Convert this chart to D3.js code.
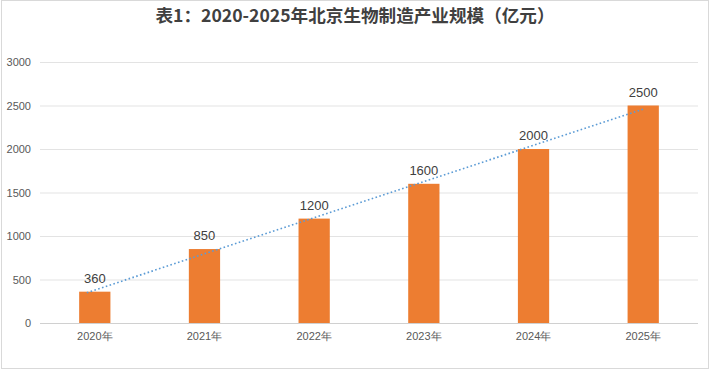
<!DOCTYPE html>
<html><head><meta charset="utf-8">
<script src="https://cdn.jsdelivr.net/npm/d3@7/dist/d3.min.js"></script>
<style>body{margin:0;background:#fff}svg{display:block;font-family:"Microsoft YaHei","Noto Sans CJK SC",sans-serif}</style>
</head><body><svg id="c" width="712" height="371"></svg>
<script>
const categories = ["2020年","2021年","2022年","2023年","2024年","2025年"];
const values = [360, 850, 1200, 1600, 2000, 2500];
const yTicks = [0, 500, 1000, 1500, 2000, 2500, 3000];
const title = "表1：2020-2025年北京生物制造产业规模（亿元）";

(function(){
const svg = d3.select("#c");
svg.append("rect").attr("x",1.5).attr("y",0.5).attr("width",707).attr("height",368).attr("fill","#fff").attr("stroke","#d9d9d9");

const pl = 40, pr = 698, pt = 62, pb = 323;
const x = d3.scaleBand().domain(categories).range([pl, pr]).paddingInner(0.715).paddingOuter(0.357);
const y = d3.scaleLinear().domain([0, 3000]).range([pb, pt]);

svg.append("text").attr("x",355).attr("y",22).attr("text-anchor","middle")
  .attr("font-size",17.6).attr("font-weight","bold").attr("fill","#404040").text(title);

svg.append("g").selectAll("line").data(yTicks).join("line")
  .attr("x1",pl).attr("x2",pr).attr("y1",d=>y(d)+0.5).attr("y2",d=>y(d)+0.5)
  .attr("stroke",d=>d===0?"#d0d0d0":"#e3e3e3").attr("stroke-width",1);

const yAxis = d3.axisLeft(y).tickValues(yTicks).tickFormat(d3.format("d")).tickSize(0).tickPadding(9);
const gy = svg.append("g").attr("transform",`translate(${pl},0)`).call(yAxis);
gy.select(".domain").remove();
gy.selectAll("text").attr("font-size",11).attr("fill","#595959").attr("font-family","'Liberation Sans','Noto Sans CJK SC',sans-serif");

const xAxis = d3.axisBottom(x).tickSize(0).tickPadding(9);
const gx = svg.append("g").attr("transform",`translate(0,${pb})`).call(xAxis);
gx.select(".domain").remove();
gx.selectAll("text").attr("font-size",11).attr("fill","#595959");

svg.append("g").selectAll("rect").data(values).join("rect")
  .attr("x",(d,i)=>x(categories[i])).attr("width",x.bandwidth())
  .attr("y",d=>y(d)).attr("height",d=>pb-y(d)).attr("fill","#ED7D31");

const n = values.length, mx = (n-1)/2, my = d3.mean(values);
let sxy=0, sxx=0; values.forEach((v,i)=>{sxy+=(i-mx)*(v-my); sxx+=(i-mx)*(i-mx);});
const slope = sxy/sxx, icpt = my - slope*mx;
const cx = i => x(categories[i]) + x.bandwidth()/2;
const step = cx(1)-cx(0);
svg.append("line").attr("x1",cx(0)-8).attr("y1",y(icpt - slope*8/step))
  .attr("x2",cx(n-1)).attr("y2",y(icpt+slope*(n-1)))
  .attr("stroke","#5B9BD5").attr("stroke-width",1.6).attr("stroke-dasharray","1.6,2.4");

svg.append("g").selectAll("text").data(values).join("text")
  .attr("x",(d,i)=>cx(i)).attr("y",d=>y(d)-9).attr("text-anchor","middle")
  .attr("font-size",13).attr("fill","#404040").attr("font-family","'Liberation Sans','Noto Sans',sans-serif")
  .text(d=>d);
})();
</script></body></html>
